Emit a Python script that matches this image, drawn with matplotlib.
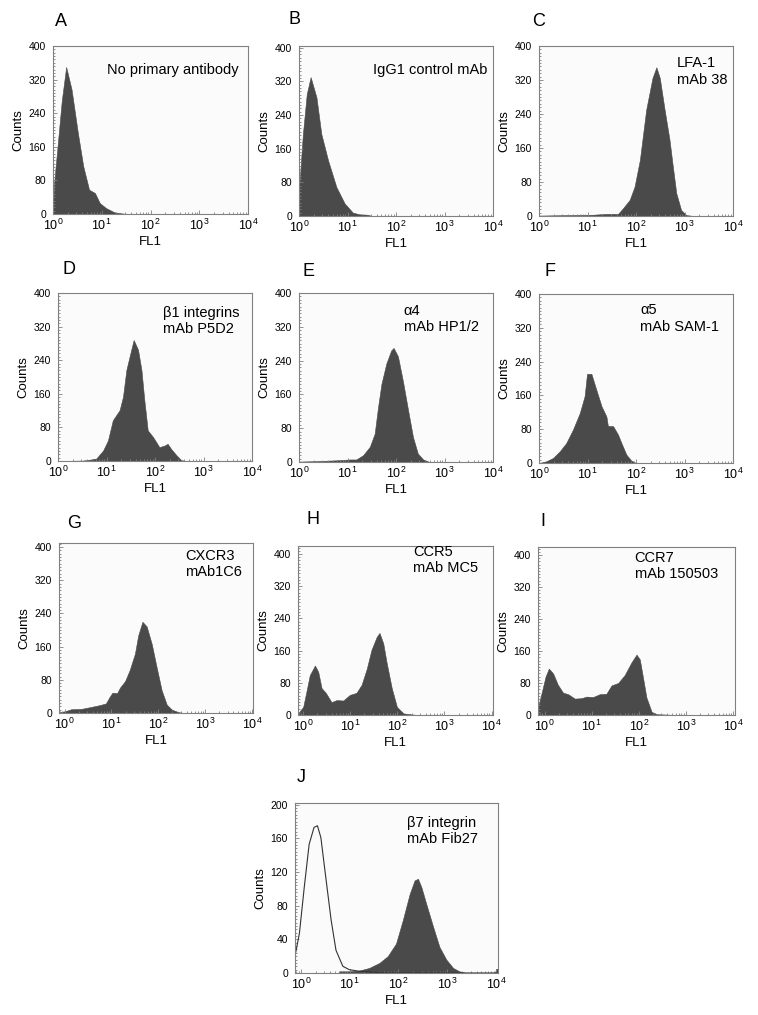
import numpy as np
import matplotlib
matplotlib.use('Agg')
import matplotlib.pyplot as plt
from matplotlib.ticker import LogLocator, MultipleLocator, AutoMinorLocator, NullFormatter

plt.rcParams['font.family'] = ['Liberation Sans', 'DejaVu Sans']

# ---- data: FL1 in log10 decades, counts ----
a_log = [0.0, 0.02, 0.1, 0.18, 0.27, 0.38, 0.51, 0.62, 0.74, 0.86, 0.96, 1.09, 1.26, 1.44, 1.6, 4.0]
a_cnt = [0, 70, 170, 270, 350, 297, 193, 114, 58, 50, 26, 14, 4, 1, 0, 0]

b_log = [0.0, 0.01, 0.08, 0.16, 0.24, 0.36, 0.46, 0.6, 0.77, 0.94, 1.11, 1.25, 1.42, 1.5, 4.0]
b_cnt = [0, 77, 195, 290, 330, 282, 195, 132, 69, 30, 8, 4, 3, 0, 0]

c_log = [0.0, 1.11, 1.39, 1.63, 1.73, 1.87, 1.97, 2.08, 2.21, 2.34, 2.42, 2.49, 2.59, 2.69, 2.76, 2.83, 2.93, 3.04, 3.2, 4.0]
c_cnt = [1, 3, 5, 5, 18, 38, 69, 132, 250, 325, 350, 325, 250, 180, 116, 54, 14, 2, 0, 0]

d_log = [0.0, 0.51, 0.65, 0.79, 0.93, 1.03, 1.13, 1.27, 1.34, 1.41, 1.51, 1.56, 1.65, 1.72, 1.78, 1.85,
         1.96, 2.09, 2.2, 2.26, 2.33, 2.44, 2.54, 2.65, 4.0]
d_cnt = [0, 1, 3, 6, 25, 49, 97, 121, 153, 217, 265, 288, 265, 217, 145, 73,
         57, 33, 37, 41, 29, 14, 2, 0, 0]

e_log = [0.0, 0.36, 0.77, 1.04, 1.18, 1.32, 1.46, 1.56, 1.63, 1.7, 1.8, 1.9, 1.95, 2.04, 2.14, 2.25,
         2.35, 2.45, 2.56, 2.69, 4.0]
e_cnt = [1, 2, 4, 6, 6, 16, 36, 67, 130, 185, 233, 264, 270, 250, 193, 122, 59, 20, 6, 0, 0]

f_log = [0.0, 0.15, 0.29, 0.43, 0.56, 0.70, 0.84, 0.94, 0.99, 1.08, 1.18, 1.29, 1.39, 1.42, 1.53, 1.63,
         1.70, 1.80, 1.90, 2.0, 4.0]
f_cnt = [0, 4, 12, 28, 47, 79, 118, 158, 211, 211, 174, 134, 110, 88, 87, 67, 47, 20, 6, 0, 0]

g_log = [-0.12, 0.0, 0.14, 0.36, 0.54, 0.75, 0.88, 0.96, 1.02, 1.12, 1.18, 1.29, 1.39, 1.5, 1.57, 1.66,
         1.75, 1.86, 1.96, 2.07, 2.18, 2.29, 2.43, 2.54, 4.02]
g_cnt = [2, 4, 9, 10, 14, 19, 23, 39, 49, 48, 61, 77, 104, 143, 187, 220, 209, 166, 112, 55, 20, 8, 2, 0, 0]

h_log = [-0.11, 0.0, 0.07, 0.14, 0.25, 0.32, 0.39, 0.48, 0.6, 0.71, 0.85, 0.99, 1.13, 1.24, 1.35, 1.45,
         1.56, 1.62, 1.7, 1.77, 1.88, 1.99, 2.13, 2.34, 2.45, 4.03]
h_cnt = [4, 20, 59, 99, 123, 107, 67, 55, 32, 37, 36, 50, 55, 75, 115, 162, 194, 204, 178, 131, 67, 20,
         4, 1, 0, 0]

i_log = [-0.14, -0.07, 0.02, 0.09, 0.18, 0.28, 0.39, 0.5, 0.64, 0.78, 0.89, 1.03, 1.17, 1.31, 1.42, 1.56,
         1.7, 1.84, 1.95, 2.02, 2.09, 2.16, 2.27, 2.38, 2.6, 2.8, 4.04]
i_cnt = [20, 52, 96, 116, 104, 76, 56, 52, 41, 42, 46, 45, 52, 53, 74, 80, 100, 131, 151, 139, 92, 44,
         8, 2, 1, 0, 0]

# panel J: filled = beta7, outline = control
j_log = [0.79, 0.99, 1.2, 1.4, 1.61, 1.78, 1.95, 2.09, 2.23, 2.33, 2.4, 2.47, 2.57, 2.71, 2.84, 2.98,
         3.12, 3.25, 3.39, 3.98, 4.0, 4.04]
j_cnt = [2, 2, 3, 6, 12, 20, 35, 63, 94, 110, 112, 102, 82, 55, 31, 16, 6, 2, 0, 0, 5, 5]
j_ctl_log = [-0.12, -0.03, 0.07, 0.17, 0.27, 0.34, 0.41, 0.51, 0.62, 0.72, 0.86, 0.99, 1.2, 1.47, 1.7, 4.04]
j_ctl_cnt = [20, 47, 102, 153, 173, 175, 161, 114, 63, 27, 8, 4, 2, 1, 0, 0]

letters = ['A', 'B', 'C', 'D', 'E', 'F', 'G', 'H', 'I', 'J']
labels = ['No primary antibody', 'IgG1 control mAb', 'LFA-1\nmAb 38',
          '\u03b21 integrins\nmAb P5D2', '\u03b14\nmAb HP1/2', '\u03b15\nmAb SAM-1',
          'CXCR3\nmAb1C6', 'CCR5\nmAb MC5', 'CCR7\nmAb 150503', '\u03b27 integrin\nmAb Fib27']

W, H = 758, 1015
fill_col = '#4a4a4a'
spine_col = '#808080'

fig = plt.figure(figsize=(W / 100, H / 100), dpi=100)
fig.patch.set_facecolor('white')

# (box l, t, r, b in px, data, x range, y top, text x, text y, ha, letter x, letter y)
panels = [
    ((53, 46, 248, 214), (a_log, a_cnt), (0, 4), 400, 0.95, 0.86, 'right', 55, 21),
    ((299, 46, 493, 216), (b_log, b_cnt), (0, 4), 404, 0.97, 0.86, 'right', 288, 20),
    ((539, 46, 733, 216), (c_log, c_cnt), (0, 4), 400, 0.71, 0.85, 'left', 532, 21),
    ((58, 293, 252, 461), (d_log, d_cnt), (0, 4), 400, 0.54, 0.835, 'left', 62, 270),
    ((299, 293, 493, 462), (e_log, e_cnt), (0, 4), 400, 0.54, 0.845, 'left', 303, 272),
    ((539, 294, 733, 463), (f_log, f_cnt), (0, 4), 400, 0.52, 0.855, 'left', 545, 272),
    ((59, 543, 253, 713), (g_log, g_cnt), (-0.12, 4.02), 410, 0.65, 0.875, 'left', 67, 524),
    ((298, 546, 493, 715), (h_log, h_cnt), (-0.11, 4.03), 420, 0.59, 0.915, 'left', 307, 520),
    ((538, 547, 735, 715), (i_log, i_cnt), (-0.14, 4.04), 420, 0.49, 0.888, 'left', 540, 522),
    ((295, 803, 498, 973), (j_log, j_cnt), (-0.12, 4.04), 202, 0.55, 0.837, 'left', 297, 778),
]

for k, (box, (xl, yc), xr, ytop, tx, ty, ha, lx, ly) in enumerate(panels):
    l, t, r, b = box
    ax = fig.add_axes([l / W, 1 - b / H, (r - l) / W, (b - t) / H])
    ax.set_facecolor('#fbfbfb')
    x = 10 ** np.array(xl)
    ax.fill_between(x, np.array(yc), 0, color=fill_col, lw=0.4, edgecolor=fill_col)
    if letters[k] == 'J':
        ax.plot(10 ** np.array(j_ctl_log), j_ctl_cnt, color='#333333', lw=0.8)
        ax.yaxis.set_major_locator(MultipleLocator(40))
    else:
        ax.yaxis.set_major_locator(MultipleLocator(80))
    ax.set_xscale('log')
    ax.set_xlim(10 ** xr[0], 10 ** xr[1])
    ax.set_ylim(0, ytop)
    ax.xaxis.set_major_locator(LogLocator(base=10, numticks=10))
    ax.xaxis.set_minor_locator(LogLocator(base=10, subs=np.arange(2, 10), numticks=10))
    ax.xaxis.set_minor_formatter(NullFormatter())
    ax.yaxis.set_minor_locator(AutoMinorLocator(10))
    ax.tick_params(which='both', direction='in', color=spine_col, width=0.6)
    ax.tick_params(which='major', length=3)
    ax.tick_params(which='minor', length=1.5)
    ax.tick_params(axis='y', labelsize=7.5, pad=5)
    ax.tick_params(axis='x', labelsize=9, pad=3)
    for s in ax.spines.values():
        s.set_color(spine_col)
        s.set_linewidth(0.8)
    ax.set_ylabel('Counts', fontsize=9.5, labelpad=3)
    ax.set_xlabel('FL1', fontsize=9.5, labelpad=2)
    ax.text(tx, ty, labels[k], transform=ax.transAxes, ha=ha, va='center',
            fontsize=10.5, linespacing=1.2)
    fig.text(lx / W, 1 - ly / H, letters[k], fontsize=13, ha='left', va='center')

fig.savefig('out.png', dpi=100)
